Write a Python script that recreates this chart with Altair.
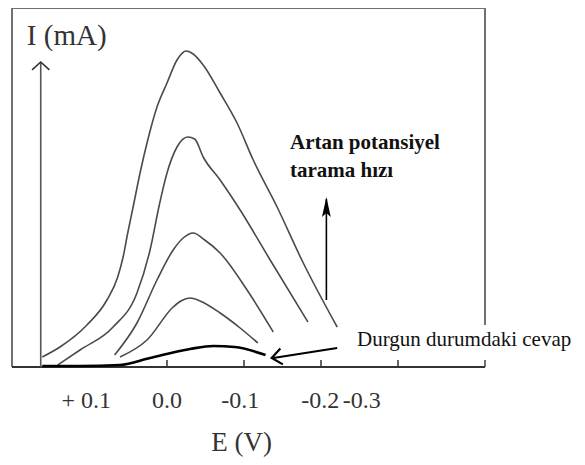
import altair as alt
import pandas as pd

# ---- data ----
# potential E (V) and current I (arbitrary units, 0 = baseline)
c1_E = [0.162, 0.139, 0.104, 0.078, 0.064, 0.057, 0.051, 0.044, 0.035, 0.025, 0.013, 0.0, -0.013, -0.025, -0.034, -0.047, -0.069, -0.091, -0.112, -0.143, -0.177, -0.221]
c1_I = [10, 20, 42, 67, 90, 110, 134, 160, 194, 227, 260, 284, 307, 316, 313, 302, 274, 244, 207, 160, 104, 40]

c2_E = [0.142, 0.113, 0.070, 0.039, 0.022, 0.010, 0.0, -0.013, -0.027, -0.036, -0.047, -0.069, -0.095, -0.134, -0.183]
c2_I = [2, 17, 40, 74, 117, 162, 194, 220, 230, 228, 210, 187, 157, 107, 45]

c3_E = [0.068, 0.039, 0.013, -0.008, -0.021, -0.034, -0.049, -0.069, -0.104, -0.138]
c3_I = [12, 44, 87, 117, 129, 134, 127, 114, 77, 35]

c4_E = [0.061, 0.026, -0.008, -0.018, -0.030, -0.043, -0.069, -0.095, -0.118]
c4_I = [10, 27, 60, 66, 69, 66, 54, 39, 24]

ss_E = [0.162, 0.113, 0.061, 0.022, -0.030, -0.060, -0.088, -0.128]
ss_I = [1, 1, 2, 9, 18, 21, 20, 12]

tick_values = [0.0, -0.1, -0.2, -0.3]
tick_labels = ["+ 0.1", "0.0", "-0.1", "-0.2", "-0.3"]
tick_label_pos = [0.105, 0.0, -0.095, -0.199, -0.253]

E_MIN, E_MAX = -0.413, 0.2013
I_MAX = 359

xs = alt.Scale(domain=[E_MAX, E_MIN], nice=False, zero=False)
ys = alt.Scale(domain=[0, I_MAX], nice=False, zero=False)
FONT = "Liberation Serif"

def X(f):
    return alt.X(f, type="quantitative", scale=xs, axis=None)

def Y(f):
    return alt.Y(f, type="quantitative", scale=ys, axis=None)

rows = []
for name, es, is_ in [("c1", c1_E, c1_I), ("c2", c2_E, c2_I), ("c3", c3_E, c3_I), ("c4", c4_E, c4_I)]:
    for k, (e, i) in enumerate(zip(es, is_)):
        rows.append({"curve": name, "E": e, "I": i, "o": k})
curves_df = pd.DataFrame(rows)
ss_df = pd.DataFrame({"E": ss_E, "I": ss_I, "o": list(range(len(ss_E)))})

curves = alt.Chart(curves_df).mark_line(color="#4a4a4a", strokeWidth=1.6, interpolate="monotone").encode(
    x=X("E"), y=Y("I"), detail="curve:N", order="o:Q")
steady = alt.Chart(ss_df).mark_line(color="#000000", strokeWidth=2.6, interpolate="monotone").encode(
    x=X("E"), y=Y("I"), order="o:Q")

# frame segments
frame_df = pd.DataFrame({
    "x": [E_MAX, E_MAX, E_MIN, E_MIN],
    "x2": [E_MAX, E_MIN, E_MIN, E_MIN],
    "y": [0, I_MAX, 42, 0],
    "y2": [I_MAX, I_MAX, I_MAX, 7],
})
frame = alt.Chart(frame_df).mark_rule(color="#707070", strokeWidth=2).encode(
    x=X("x"), x2="x2:Q", y=Y("y"), y2="y2:Q")
bottom_df = pd.DataFrame({"x": [E_MAX], "x2": [E_MIN], "y": [0]})
bottom = alt.Chart(bottom_df).mark_rule(color="#333333", strokeWidth=2).encode(
    x=X("x"), x2="x2:Q", y=Y("y"))
ticks_df = pd.DataFrame({"x": tick_values, "y": [0] * 4, "y2": [7] * 4})
ticks = alt.Chart(ticks_df).mark_rule(color="#333333", strokeWidth=1.5).encode(
    x=X("x"), y=Y("y"), y2="y2:Q")

# arrows
ax_df = pd.DataFrame({"x": [0.164], "y": [0], "y2": [305]})
yarrow = alt.Chart(ax_df).mark_rule(color="#555555", strokeWidth=1.6).encode(
    x=X("x"), y=Y("y"), y2="y2:Q")
yhead = alt.Chart(pd.DataFrame({"x": [0.164], "y": [305]})).mark_point(
    shape="M -1 0.9 L 0 0 L 1 0.9", filled=False, size=300, color="#333333", strokeWidth=1.6, opacity=1
).encode(x=X("x"), y=Y("y"))

va_df = pd.DataFrame({"x": [-0.207], "y": [67], "y2": [168]})
varrow = alt.Chart(va_df).mark_rule(color="#000000", strokeWidth=1.6).encode(
    x=X("x"), y=Y("y"), y2="y2:Q")
vhead = alt.Chart(pd.DataFrame({"x": [-0.207], "y": [170]})).mark_point(
    shape="M 0 0 L -0.22 1 L 0 0.8 L 0.22 1 Z", filled=True, size=1600, color="#000000", opacity=1
).encode(x=X("x"), y=Y("y"))

ha_df = pd.DataFrame({"x": [-0.221], "y": [19], "x2": [-0.138], "y2": [9]})
harrow = alt.Chart(ha_df).mark_rule(color="#000000", strokeWidth=2.2).encode(
    x=X("x"), x2="x2:Q", y=Y("y"), y2="y2:Q")
hhead = alt.Chart(pd.DataFrame({"x": [-0.136], "y": [9]})).mark_point(
    shape="M 1 -0.8 L 0 0 L 1 0.8", filled=False, size=400, color="#000000", strokeWidth=2.2, opacity=1, angle=351
).encode(x=X("x"), y=Y("y"))

# texts
tl_df = pd.DataFrame({"x": tick_label_pos, "y": [-41] * 5, "t": tick_labels})
tlabels = alt.Chart(tl_df).mark_text(font=FONT, fontSize=24, color="#333333", align="center", baseline="alphabetic").encode(
    x=X("x"), y=Y("y"), text="t:N")

xt = alt.Chart(pd.DataFrame({"x": [-0.097], "y": [-84], "t": ["E (V)"]})).mark_text(
    font=FONT, fontSize=27, color="#333333", align="center", baseline="alphabetic").encode(x=X("x"), y=Y("y"), text="t:N")
yt = alt.Chart(pd.DataFrame({"x": [0.182], "y": [322], "t": ["I (mA)"]})).mark_text(
    font=FONT, fontSize=29, color="#333333", align="left", baseline="alphabetic").encode(x=X("x"), y=Y("y"), text="t:N")

ann_df = pd.DataFrame({"x": [-0.1597, -0.1597], "y": [218, 190], "t": ["Artan potansiyel", "tarama hızı"]})
ann = alt.Chart(ann_df).mark_text(font=FONT, fontSize=21, fontWeight="bold", color="#111111", align="left", baseline="alphabetic").encode(
    x=X("x"), y=Y("y"), text="t:N")
dur = alt.Chart(pd.DataFrame({"x": [-0.2468], "y": [21], "t": ["Durgun durumdaki cevap"]})).mark_text(
    font=FONT, fontSize=21, color="#111111", align="left", baseline="alphabetic").encode(x=X("x"), y=Y("y"), text="t:N")

chart = alt.layer(
    frame, bottom, ticks, curves, steady, yarrow, yhead, varrow, vhead, harrow, hhead,
    tlabels, xt, yt, ann, dur
).properties(
    width=473, height=359,
    padding={"left": 4, "top": 0, "right": 92, "bottom": 90},
    autosize="none",
).configure_view(stroke=None)

chart.save("out.html", embed_options={"renderer": "svg", "actions": False})
